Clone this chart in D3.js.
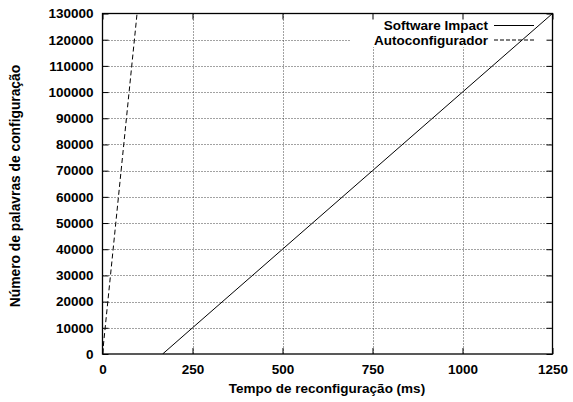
<!DOCTYPE html>
<html><head><meta charset="utf-8">
<script src="https://cdn.jsdelivr.net/npm/d3@7"></script>
<style>
html,body{margin:0;padding:0;background:#fff;}
text{font-family:"Liberation Sans",Arial,sans-serif;font-weight:bold;}
</style></head>
<body>
<svg id="c" width="573" height="402"></svg>
<script>
const xTicks = [0, 250, 500, 750, 1000, 1250];
const yTicks = [0, 10000, 20000, 30000, 40000, 50000, 60000, 70000, 80000, 90000, 100000, 110000, 120000, 130000];
const seriesNames = ["Software Impact", "Autoconfigurador"];
const softwareTime = [167, 250, 500, 750, 1000, 1250];
const softwareWords = [0, 10000, 40000, 70000, 100000, 130000];
const autoTime = [0, 96];
const autoWords = [0, 130000];
const xTitle = "Tempo de reconfiguração (ms)";
const yTitle = "Número de palavras de configuração";

const svg = d3.select("#c");
const L = 102.5, R = 552.5, T = 13.5, B = 354;
const x = d3.scaleLinear().domain([0, 1250]).range([L, R]);
const y = d3.scaleLinear().domain([0, 130000]).range([B, T]);
const fs = "13.5px";

// grid
const grid = svg.append("g").attr("stroke", "#444").attr("stroke-width", 1).attr("stroke-dasharray", "1,2");
grid.selectAll(".gy").data(yTicks.slice(1, -1)).enter().append("line")
  .attr("x1", L).attr("x2", R).attr("y1", d => Math.round(y(d)) + 0.5).attr("y2", d => Math.round(y(d)) + 0.5);
grid.selectAll(".gx").data(xTicks.slice(1, -1)).enter().append("line")
  .attr("y1", T).attr("y2", B).attr("x1", d => Math.round(x(d)) + 0.5).attr("x2", d => Math.round(x(d)) + 0.5);

// legend background
svg.append("rect").attr("x", 350).attr("y", T + 0.5).attr("width", R - 350 - 0.5).attr("height", 33).attr("fill", "#fff");

// axes
function styleAxis(g, hideLabels) {
  g.select(".domain").remove();
  g.selectAll("line").attr("stroke", "#000");
  g.selectAll("text").attr("font-size", fs).attr("font-family", "Liberation Sans, Arial, sans-serif").attr("font-weight", "bold").attr("fill", "#000");
  if (hideLabels) g.selectAll("text").remove();
}
svg.append("g").attr("transform", `translate(${L},0)`)
  .call(d3.axisLeft(y).tickValues(yTicks).tickSize(-6).tickPadding(9).tickFormat(d3.format("d")))
  .call(g => styleAxis(g, false));
svg.append("g").attr("transform", `translate(${R},0)`)
  .call(d3.axisRight(y).tickValues(yTicks).tickSize(-6))
  .call(g => styleAxis(g, true));
svg.append("g").attr("transform", `translate(0,${B})`)
  .call(d3.axisBottom(x).tickValues(xTicks).tickSize(-6).tickPadding(10).tickFormat(d3.format("d")))
  .call(g => styleAxis(g, false));
svg.append("g").attr("transform", `translate(0,${T})`)
  .call(d3.axisTop(x).tickValues(xTicks).tickSize(-6))
  .call(g => styleAxis(g, true));

// data
svg.append("defs").append("clipPath").attr("id", "clip").append("rect")
  .attr("x", L).attr("y", T).attr("width", R - L).attr("height", B - T);
const line = d3.line().x(d => x(d[0])).y(d => y(d[1]));
const plot = svg.append("g").attr("clip-path", "url(#clip)");
plot.append("path").datum(softwareTime.map((t, i) => [t, softwareWords[i]]))
  .attr("d", line).attr("fill", "none").attr("stroke", "#000").attr("stroke-width", 1);
plot.append("path").datum(autoTime.map((t, i) => [t, autoWords[i]]))
  .attr("d", line).attr("fill", "none").attr("stroke", "#000").attr("stroke-width", 1).attr("stroke-dasharray", "5,3");

// border
svg.append("rect").attr("x", L).attr("y", T).attr("width", R - L).attr("height", B - T)
  .attr("fill", "none").attr("stroke", "#000").attr("stroke-width", 1.3);

// legend
const legY = [25.5, 40];
const dashes = [null, "4,2"];
seriesNames.forEach((n, i) => {
  svg.append("text").attr("x", 488).attr("y", legY[i]).attr("dy", "0.35em")
    .attr("text-anchor", "end").attr("font-size", fs).text(n);
  svg.append("line").attr("x1", 494).attr("x2", 534).attr("y1", legY[i]).attr("y2", legY[i])
    .attr("stroke", "#000").attr("stroke-width", 1).attr("stroke-dasharray", dashes[i]);
});

// titles
svg.append("text").attr("x", 327).attr("y", 393).attr("text-anchor", "middle").attr("font-size", fs).text(xTitle);
svg.append("text").attr("transform", "translate(20,186) rotate(-90)").attr("text-anchor", "middle")
  .attr("font-size", "13.8px").text(yTitle);
</script>
</body></html>
